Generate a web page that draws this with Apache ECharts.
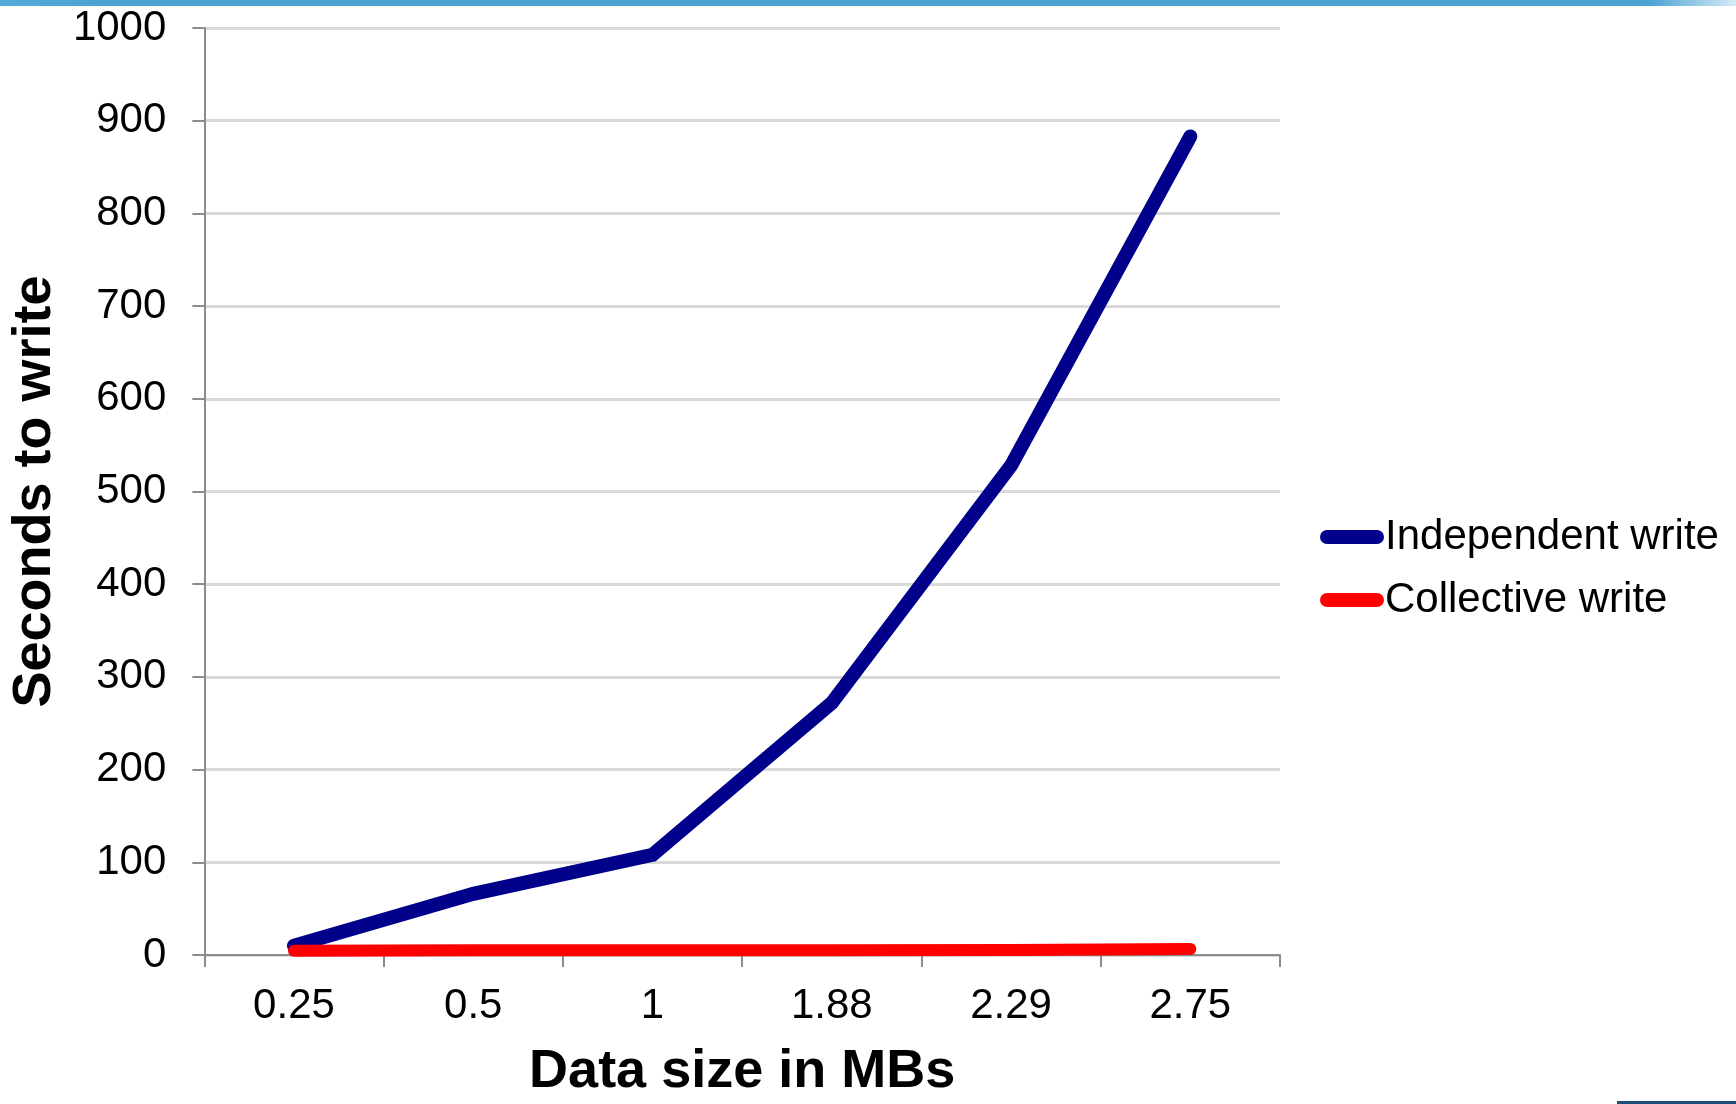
<!DOCTYPE html>
<html>
<head>
<meta charset="utf-8">
<script src="https://cdn.jsdelivr.net/npm/echarts@6/dist/echarts.min.js"></script>
<style>
html,body{margin:0;padding:0;background:#fff;}
#chart{width:1736px;height:1104px;}
</style>
</head>
<body>
<div id="chart"></div>
<script>
const categories = ['0.25', '0.5', '1', '1.88', '2.29', '2.75'];
const independentWrite = [10, 66, 108, 272, 528, 883];
const collectiveWrite = [4.5, 5, 5, 5, 5.5, 6.5];
const yTicks = { min: 0, max: 1000, interval: 100 };
const seriesNames = ['Independent write', 'Collective write'];

const FONT = '"Liberation Sans", Arial, sans-serif';
const axisGray = '#8c8c8c';

const chart = echarts.init(document.getElementById('chart'));
chart.setOption({
  animation: false,
  backgroundColor: '#ffffff',
  graphic: [
    {
      type: 'rect',
      shape: { x: 0, y: 0, width: 1736, height: 6 },
      style: {
        fill: {
          type: 'linear', x: 0, y: 0, x2: 1, y2: 0,
          colorStops: [
            { offset: 0, color: '#55aad8' },
            { offset: 0.06, color: '#4aa3d3' },
            { offset: 0.95, color: '#4aa3d3' },
            { offset: 1, color: '#d6ebf6' }
          ]
        }
      }
    },
    {
      type: 'rect',
      shape: { x: 1617, y: 1101, width: 119, height: 3 },
      style: { fill: '#1f4e79' }
    }
  ],
  grid: {
    left: 203,
    right: 456,
    top: 28,
    bottom: 136,
    containLabel: false
  },
  legend: {
    orient: 'vertical',
    left: 1315,
    top: 511,
    itemWidth: 64,
    itemHeight: 14,
    itemGap: 21,
    icon: 'path://M7,0 L57,0 A7,7 0 0 1 57,14 L7,14 A7,7 0 0 1 7,0 Z',
    textStyle: { fontSize: 42, color: '#000', fontFamily: FONT, padding: [0, 0, 0, -4] },
    data: seriesNames
  },
  xAxis: {
    type: 'category',
    data: categories,
    boundaryGap: true,
    name: 'Data size in MBs',
    nameLocation: 'middle',
    nameGap: 90,
    nameTextStyle: { fontSize: 54, fontWeight: 'bold', color: '#000', fontFamily: FONT },
    axisLine: { lineStyle: { color: axisGray, width: 2 } },
    axisTick: { show: true, length: 12, lineStyle: { color: axisGray, width: 2 } },
    axisLabel: { fontSize: 42, color: '#000', margin: 30, fontFamily: FONT },
    splitLine: { show: false }
  },
  yAxis: {
    type: 'value',
    min: yTicks.min,
    max: yTicks.max,
    interval: yTicks.interval,
    name: 'Seconds to write',
    nameLocation: 'middle',
    nameGap: 141,
    nameTextStyle: { fontSize: 54, fontWeight: 'bold', color: '#000', fontFamily: FONT },
    axisLine: { show: true, lineStyle: { color: axisGray, width: 2 } },
    axisTick: { show: true, length: 12, lineStyle: { color: axisGray, width: 2 } },
    axisLabel: {
      fontSize: 42, color: '#000', margin: 38, fontFamily: FONT,
      formatter: function (v) { return String(v); }
    },
    splitLine: { show: true, lineStyle: { color: '#d9d9d9', width: 3 } }
  },
  series: [
    {
      name: seriesNames[0],
      type: 'line',
      data: independentWrite,
      symbol: 'none',
      smooth: false,
      itemStyle: { color: '#00008b' },
      lineStyle: { color: '#00008b', width: 14, cap: 'round', join: 'miter' }
    },
    {
      name: seriesNames[1],
      type: 'line',
      data: collectiveWrite,
      symbol: 'none',
      smooth: false,
      itemStyle: { color: '#ff0000' },
      lineStyle: { color: '#ff0000', width: 12, cap: 'round', join: 'round' }
    }
  ]
});
</script>
</body>
</html>
